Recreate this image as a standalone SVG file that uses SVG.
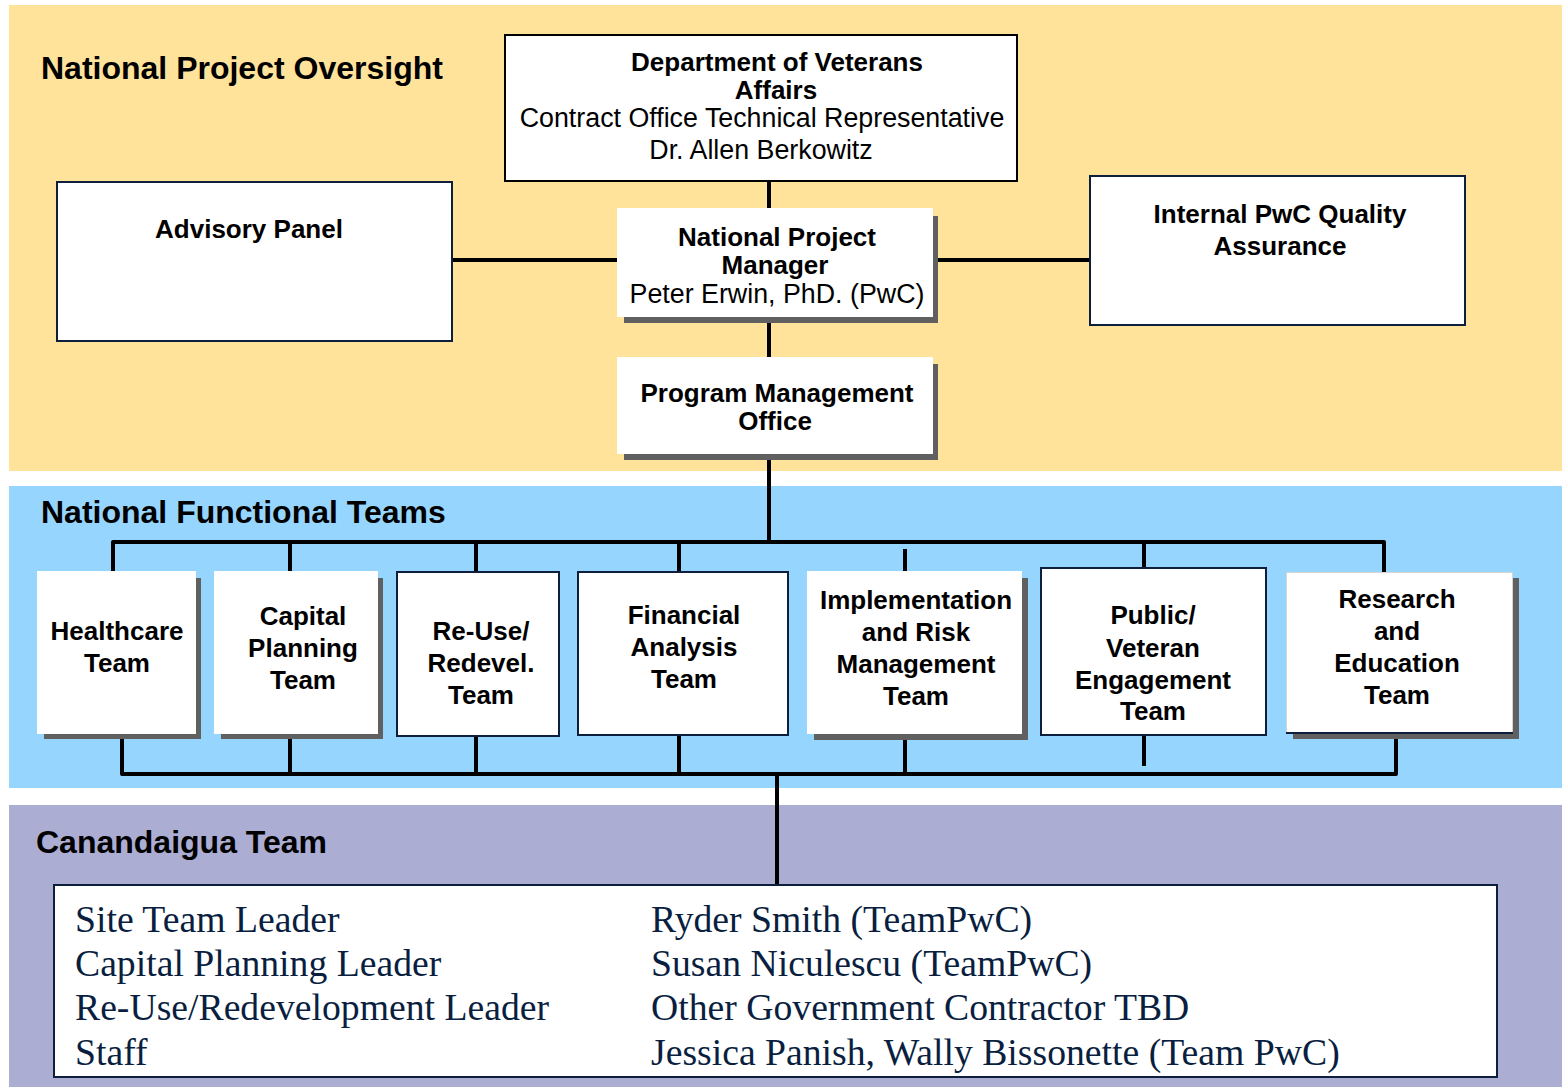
<svg xmlns="http://www.w3.org/2000/svg" width="1562" height="1087" viewBox="0 0 1562 1087">
<style>
.b{font-family:"Liberation Sans",Arial,sans-serif;font-weight:bold;font-size:26px;fill:#000;text-anchor:middle}
.r{font-family:"Liberation Sans",Arial,sans-serif;font-size:26.8px;fill:#000;text-anchor:middle}
.t{font-family:"Liberation Sans",Arial,sans-serif;font-weight:bold;fill:#000}
.s{font-family:"Liberation Serif","Times New Roman",serif;font-size:37.7px;fill:#0A1F3F}
.box{fill:#fff;stroke:#0D1F3C;stroke-width:2}
.wht{fill:#fff}
.sh{fill:#606060}
.ln{stroke:#000;stroke-width:4;fill:none;stroke-linejoin:round}
</style>
<rect width="1562" height="1087" fill="#fff"/>
<rect x="9" y="5" width="1553" height="466" fill="#FFE39B"/>
<rect x="9" y="486" width="1553" height="302" fill="#96D6FE"/>
<rect x="9" y="805" width="1553" height="282" fill="#ABADD3"/>
<text class="t" x="41" y="79" font-size="32">National Project Oversight</text>
<text class="t" x="41" y="523" font-size="32">National Functional Teams</text>
<text class="t" x="36" y="853" font-size="32">Canandaigua Team</text>

<g id="connectors">
<path class="ln" d="M769,181 V208 M452,260 H617 M938,260 H1090 M769,322 V357 M769,460 V542"/>
<path class="ln" d="M113,571 V542 H1384 V572 M290,542 V571 M476,542 V572 M679,542 V572 M905,549 V571 M1144,542 V568"/>
<path class="ln" d="M122,739 V774 H1396 V739 M290,739 V774 M476,736 V774 M679,735 V774 M905,740 V774 M1144,735 V766 M777,774 V885"/>
</g>

<g id="dva">
<rect x="505" y="35" width="512" height="146" fill="#fff" stroke="#000" stroke-width="2"/>
<text class="b" font-size="27" x="777" y="71">Department of Veterans</text>
<text class="b" font-size="27" x="776" y="99">Affairs</text>
<text class="r" x="762" y="127">Contract Office Technical Representative</text>
<text class="r" x="761" y="159">Dr. Allen Berkowitz</text>
</g>
<g id="advisory">
<rect class="box" x="57" y="182" width="395" height="159"/>
<text class="b" x="249" y="238">Advisory Panel</text>
</g>
<g id="qa">
<rect class="box" x="1090" y="176" width="375" height="149"/>
<text class="b" x="1280" y="223">Internal PwC Quality</text>
<text class="b" x="1280" y="255">Assurance</text>
</g>
<g id="npm">
<rect class="sh" x="624" y="216" width="314" height="107"/>
<rect class="wht" x="617" y="208" width="316" height="109"/>
<text class="b" font-size="26.5" x="777" y="246">National Project</text>
<text class="b" font-size="26.5" x="775" y="274">Manager</text>
<text class="r" x="777" y="303">Peter Erwin, PhD. (PwC)</text>
</g>
<g id="pmo">
<rect class="sh" x="624" y="364" width="314" height="96"/>
<rect class="wht" x="617" y="357" width="316" height="97"/>
<text class="b" font-size="26.5" x="777" y="402">Program Management</text>
<text class="b" font-size="26.5" x="775" y="430">Office</text>
</g>

<g id="healthcare">
<rect class="sh" x="44" y="578" width="157" height="161"/>
<rect class="wht" x="37" y="571" width="159" height="163"/>
<text class="b" x="117" y="640">Healthcare</text>
<text class="b" x="117" y="672">Team</text>
</g>
<g id="capital">
<rect class="sh" x="221" y="578" width="162" height="161"/>
<rect class="wht" x="214" y="571" width="164" height="163"/>
<text class="b" x="303" y="625">Capital</text>
<text class="b" x="303" y="657">Planning</text>
<text class="b" x="303" y="689">Team</text>
</g>
<g id="reuse">
<rect class="box" x="397" y="572" width="162" height="164"/>
<text class="b" x="481" y="640">Re-Use/</text>
<text class="b" x="481" y="672">Redevel.</text>
<text class="b" x="481" y="704">Team</text>
</g>
<g id="financial">
<rect class="box" x="578" y="572" width="210" height="163"/>
<text class="b" x="684" y="624">Financial</text>
<text class="b" x="684" y="656">Analysis</text>
<text class="b" x="684" y="688">Team</text>
</g>
<g id="implementation">
<rect class="sh" x="814" y="578" width="214" height="162"/>
<rect class="wht" x="807" y="571" width="215" height="163"/>
<text class="b" x="916" y="609">Implementation</text>
<text class="b" x="916" y="641">and Risk</text>
<text class="b" x="916" y="673">Management</text>
<text class="b" x="916" y="705">Team</text>
</g>
<g id="public">
<rect class="box" x="1041" y="568" width="225" height="167"/>
<text class="b" x="1153" y="624">Public/</text>
<text class="b" x="1153" y="657">Veteran</text>
<text class="b" x="1153" y="689">Engagement</text>
<text class="b" x="1153" y="720">Team</text>
</g>
<g id="research">
<rect class="sh" x="1293" y="578" width="226" height="161"/>
<rect x="1286.5" y="572.5" width="226" height="160" fill="#fff" stroke="#d4d4d4" stroke-width="1"/>
<line x1="1286" y1="733" x2="1513" y2="733" stroke="#0D1F3C" stroke-width="2"/>
<text class="b" x="1397" y="608">Research</text>
<text class="b" x="1397" y="640">and</text>
<text class="b" x="1397" y="672">Education</text>
<text class="b" x="1397" y="704">Team</text>
</g>

<g id="canandaigua">
<rect class="box" x="54" y="885" width="1443" height="192"/>
<text class="s" x="75" y="932">Site Team Leader</text>
<text class="s" x="75" y="976">Capital Planning Leader</text>
<text class="s" x="75" y="1020">Re-Use/Redevelopment Leader</text>
<text class="s" x="75" y="1065">Staff</text>
<text class="s" x="651" y="932">Ryder Smith (TeamPwC)</text>
<text class="s" x="651" y="976">Susan Niculescu (TeamPwC)</text>
<text class="s" x="651" y="1020">Other Government Contractor TBD</text>
<text class="s" x="651" y="1065">Jessica Panish, Wally Bissonette (Team PwC)</text>
</g>
</svg>
